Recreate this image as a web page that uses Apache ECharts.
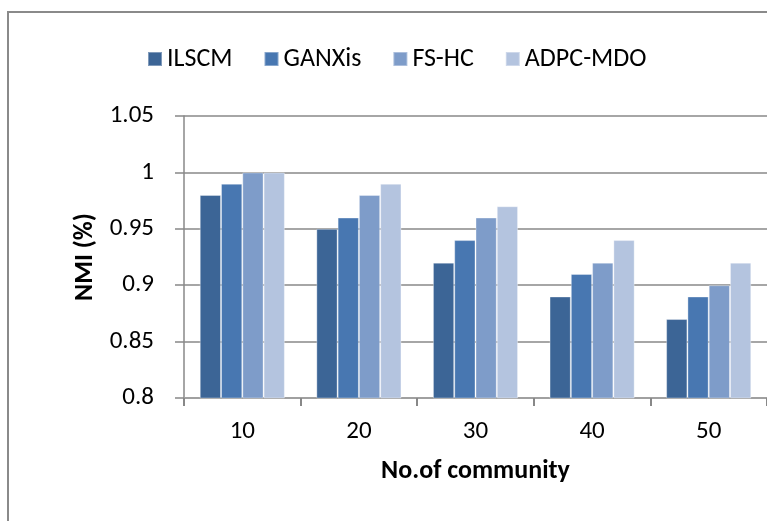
<!DOCTYPE html>
<html>
<head>
<meta charset="utf-8">
<script src="https://cdn.jsdelivr.net/npm/echarts@6/dist/echarts.min.js"></script>
<style>
  html, body { margin: 0; padding: 0; background: #fff; }
  #chart { width: 767px; height: 521px; }
</style>
</head>
<body>
<div id="chart"></div>
<script>
// Community counts on the x axis
const categories = ['10', '20', '30', '40', '50'];

// NMI per method
const ilscm   = [0.98, 0.95, 0.92, 0.89, 0.87];
const ganxis  = [0.99, 0.96, 0.94, 0.91, 0.89];
const fshc    = [1.00, 0.98, 0.96, 0.92, 0.90];
const adpcMdo = [1.00, 0.99, 0.97, 0.94, 0.92];

const seriesNames = ['ILSCM', 'GANXis', 'FS-HC', 'ADPC-MDO'];
const seriesData = [ilscm, ganxis, fshc, adpcMdo];
const colors = ['#3C6596', '#4877B1', '#7E9CC9', '#B4C4DF'];

const FONT = 'Carlito';
const GRID_GRAY = '#888888';

const chart = echarts.init(document.getElementById('chart'), null, { renderer: 'canvas' });

chart.setOption({
  animation: false,
  backgroundColor: '#ffffff',
  color: colors,
  graphic: [{
    type: 'rect',
    shape: { x: 8, y: 12, width: 900, height: 700 },
    style: { fill: 'none', stroke: '#8a8a8a', lineWidth: 2 },
    silent: true,
    z: -1
  }],
  legend: {
    left: 142,
    top: 41,
    itemWidth: 14,
    itemHeight: 14,
    itemGap: 31,
    icon: 'rect',
    textStyle: { fontFamily: FONT, fontSize: 26, color: '#000' },
    data: seriesNames
  },
  grid: {
    left: 184,
    right: -13,
    top: 116,
    bottom: 123,
    containLabel: false
  },
  xAxis: {
    type: 'category',
    data: categories,
    name: 'No.of community',
    nameLocation: 'middle',
    nameGap: 60,
    nameTextStyle: { fontFamily: FONT, fontSize: 26, fontWeight: 'bold', color: '#000' },
    axisLine: { lineStyle: { color: '#a0a0a0', width: 2 } },
    axisTick: { show: true, length: 8, lineStyle: { color: GRID_GRAY, width: 2 } },
    axisLabel: { margin: 21, fontFamily: FONT, fontSize: 25, color: '#000' }
  },
  yAxis: {
    type: 'value',
    min: 0.8,
    max: 1.05,
    interval: 0.05,
    name: 'NMI (%)',
    nameLocation: 'middle',
    nameGap: 83,
    nameTextStyle: { fontFamily: FONT, fontSize: 26, fontWeight: 'bold', color: '#000' },
    axisLine: { show: true, lineStyle: { color: GRID_GRAY, width: 1.5 } },
    axisTick: { show: true, length: 9, lineStyle: { color: GRID_GRAY, width: 1.5 } },
    axisLabel: {
      margin: 30,
      fontFamily: FONT,
      fontSize: 25,
      color: '#000',
      formatter: v => String(parseFloat(v.toFixed(2)))
    },
    splitLine: { lineStyle: { color: GRID_GRAY, width: 1.5 } }
  },
  series: seriesNames.map((name, i) => ({
    name,
    type: 'bar',
    data: seriesData[i],
    barGap: '0%',
    barCategoryGap: '27%',
    itemStyle: { borderColor: 'rgba(255,255,255,0.35)', borderWidth: 1 }
  }))
});
</script>
</body>
</html>
